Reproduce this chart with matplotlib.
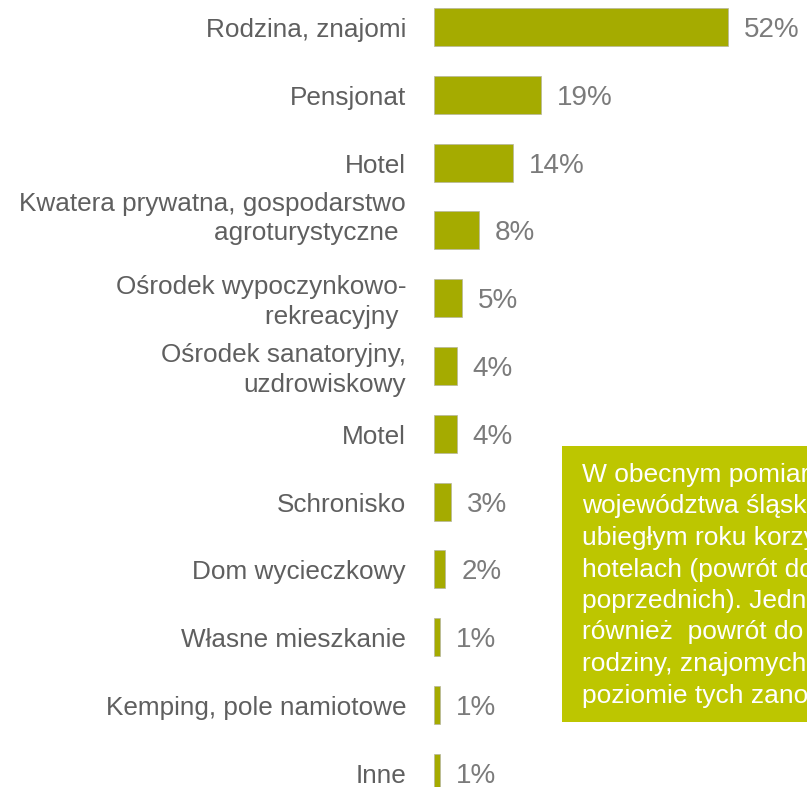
import matplotlib
matplotlib.use("Agg")
import matplotlib.pyplot as plt
from matplotlib.patches import Rectangle
from matplotlib.transforms import offset_copy

plt.rcParams['font.family'] = ['Liberation Sans', 'DejaVu Sans']

categories = [
    "Rodzina, znajomi",
    "Pensjonat",
    "Hotel",
    "Kwatera prywatna, gospodarstwo\nagroturystyczne ",
    "Ośrodek wypoczynkowo-\nrekreacyjny ",
    "Ośrodek sanatoryjny,\nuzdrowiskowy",
    "Motel",
    "Schronisko",
    "Dom wycieczkowy",
    "Własne mieszkanie",
    "Kemping, pole namiotowe",
    "Inne",
]
values = [52, 19, 14, 8, 5, 4, 4, 3, 2, 1, 1, 1]
value_labels = ["52%", "19%", "14%", "8%", "5%", "4%", "4%", "3%", "2%", "1%", "1%", "1%"]

note_lines = [
    "W obecnym pomiarze mieszkańcy",
    "województwa śląskiego, podobnie jak w",
    "ubiegłym roku korzystali z noclegów w",
    "hotelach (powrót do poziomu z lat",
    "poprzednich). Jednocześnie nastąpił",
    "również  powrót do korzystania z noclegów u",
    "rodziny, znajomych do poziomu zbliżonego",
    "poziomie tych zanotowanych wcześniej.",
]

# small vertical nudges (px) for the two-line labels
label_shift = {3: 12, 4: -4, 5: -4}

bar_color = "#A5AB00"
box_color = "#BDC600"
label_color = "#5f5f5f"
value_color = "#7b7b7b"

W, H = 807, 787
fig = plt.figure(figsize=(W / 100, H / 100), dpi=100)
ax = fig.add_axes([434 / W, 0, 373 / W, 1])
ax.set_xlim(0, 373 / 5.65)
ax.set_ylim((H - 27) / 67.8, -27 / 67.8)
ax.axis("off")

pos = list(range(len(categories)))
ax.barh(pos, values, height=0.56, color=bar_color, edgecolor="#b5b5a0", linewidth=0.5)

for i, (cat, v, vl) in enumerate(zip(categories, values, value_labels)):
    tr = offset_copy(ax.get_yaxis_transform(), fig=fig, x=-28, y=label_shift.get(i, -3), units="dots")
    ax.text(0, i, cat, transform=tr, ha="right", va="center", fontsize=18.8,
            color=label_color, linespacing=1.3)
    ax.annotate(vl, (v, i), xytext=(16, 0), textcoords="offset pixels",
                ha="left", va="center_baseline", fontsize=20, color=value_color)

# note box, running off the right edge
fig.patches.append(Rectangle((562 / W, 1 - 722 / H), (W - 562) / W + 0.05, (722 - 446) / H,
                             transform=fig.transFigure, facecolor=box_color, edgecolor="none",
                             zorder=0))
for k, line in enumerate(note_lines):
    fig.text(582 / W, 1 - (482 + 31.5 * k) / H, line, fontsize=19, color="white",
             ha="left", va="baseline")

fig.savefig("out.png", dpi=100)
